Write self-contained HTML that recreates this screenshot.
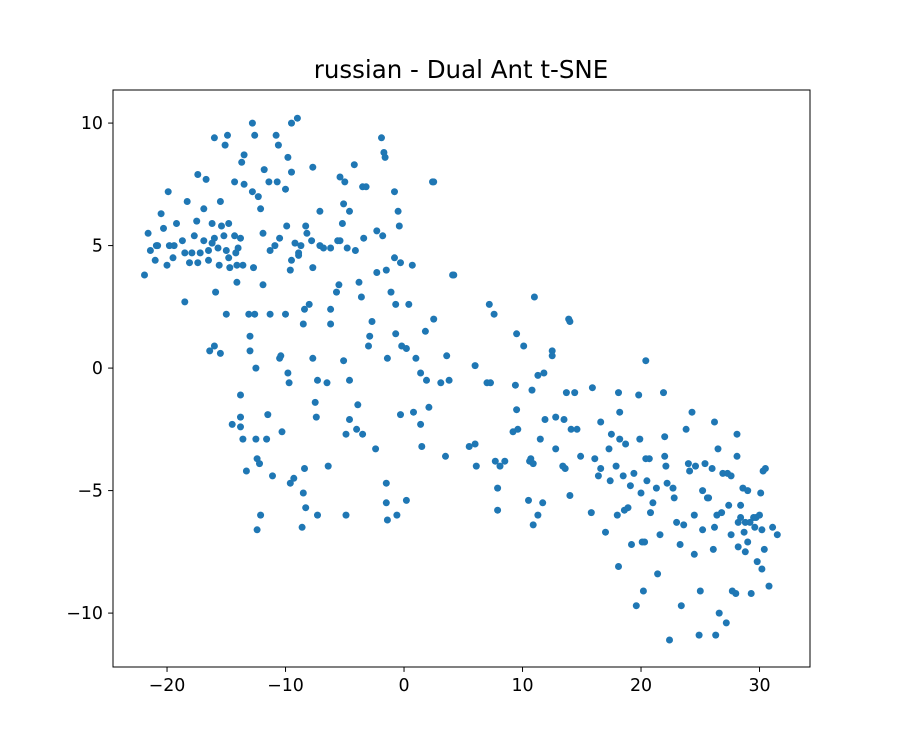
<!DOCTYPE html>
<html>
<head>
<meta charset="utf-8">
<style>
html,body{margin:0;padding:0;background:#fff;}
svg{display:block;font-family:"DejaVu Sans","Liberation Sans",sans-serif;}
</style>
</head>
<body>
<svg id="chart" width="900" height="750" xmlns="http://www.w3.org/2000/svg">
<rect x="0" y="0" width="900" height="750" fill="#fff"/>
<text x="461" y="78" text-anchor="middle" font-size="24.5" fill="#000">russian - Dual Ant t-SNE</text>
<g id="points"></g>
<g id="axes"></g>
</svg>
<script>
const xTicks = [-20,-10,0,10,20,30];
const yTicks = [-10,-5,0,5,10];
const xs = [-21.9,-21.6,-21.4,-20.9,-21.0,-20.8,-20.5,-20.3,-19.9,-20.0,-19.8,-19.5,-19.4,-19.2,-18.7,-18.5,-18.3,-18.5,-18.1,-17.9,-17.7,-17.5,-17.4,-17.4,-17.2,-16.9,-16.9,-16.7,-16.5,-16.5,-16.4,-16.2,-16.2,-16.0,-16.0,-15.9,-16.0,-15.7,-15.5,-15.6,-15.5,-15.4,-15.2,-15.1,-14.9,-15.0,-15.0,-14.8,-14.8,-14.7,-14.5,-14.3,-14.3,-14.2,-14.1,-14.1,-14.0,-13.8,-13.8,-13.8,-13.7,-13.5,-13.5,-13.6,-13.8,-13.6,-13.3,-13.1,-13.0,-13.0,-12.8,-12.8,-12.7,-12.6,-12.6,-12.5,-12.5,-12.4,-12.4,-12.3,-12.2,-12.1,-12.1,-11.9,-11.9,-11.8,-11.6,-11.5,-11.4,-11.3,-11.3,-11.1,-10.9,-10.8,-10.7,-10.6,-10.5,-10.5,-10.4,-10.3,-10.0,-10.0,-9.9,-9.8,-9.8,-9.7,-9.6,-9.6,-9.5,-9.5,-9.5,-9.3,-9.2,-9.0,-8.9,-8.9,-8.7,-8.6,-8.5,-8.5,-8.4,-8.4,-8.3,-8.3,-8.2,-8.0,-7.8,-7.7,-7.7,-7.7,-7.5,-7.4,-7.3,-7.3,-7.1,-7.1,-6.8,-6.5,-6.4,-6.2,-6.2,-6.2,-5.7,-5.6,-5.5,-5.4,-5.4,-5.2,-5.1,-5.1,-5.0,-4.9,-4.9,-4.8,-4.6,-4.6,-4.6,-4.2,-4.1,-4.0,-3.9,-3.8,-3.6,-3.5,-3.5,-3.4,-3.2,-3.0,-2.9,-2.7,-2.4,-2.3,-2.3,-1.9,-1.8,-1.7,-1.6,-1.5,-1.5,-1.5,-1.4,-1.4,-1.1,-0.8,-0.8,-0.7,-0.7,-0.6,-0.5,-0.4,-0.3,-0.3,-0.2,0.2,0.2,0.4,0.7,0.8,1.0,1.4,1.4,1.5,1.8,1.9,2.1,2.4,2.5,2.5,3.1,3.5,3.6,3.8,4.1,4.2,5.5,6.0,6.0,6.1,7.0,7.2,7.3,7.6,7.7,7.9,7.9,8.1,8.5,9.2,9.4,9.5,9.5,9.6,10.1,10.5,10.6,10.7,10.8,11.0,10.9,10.9,11.3,11.3,11.5,11.7,11.8,11.9,12.5,12.5,12.8,12.8,13.4,13.5,13.6,13.7,13.9,14.0,14.0,14.1,14.4,14.6,14.9,15.8,15.9,16.1,16.4,16.6,16.6,17.0,17.3,17.4,17.5,17.9,18.0,18.1,18.1,18.2,18.2,18.5,18.6,18.7,18.9,19.1,19.2,19.4,19.6,19.8,19.9,20.0,20.1,20.2,20.3,20.4,20.4,20.5,20.7,20.8,21.0,21.3,21.4,21.6,21.9,22.0,22.0,22.1,22.2,22.4,22.7,22.8,23.0,23.3,23.4,23.6,23.8,24.0,24.1,24.3,24.5,24.5,24.6,24.9,25.0,25.2,25.2,25.4,25.6,25.7,26.0,26.1,26.2,26.2,26.3,26.4,26.5,26.6,26.8,26.9,27.2,27.3,27.4,27.6,27.6,27.7,28.0,28.1,28.1,28.2,28.2,28.4,28.4,28.6,28.7,28.8,28.8,29.0,29.0,29.2,29.3,29.5,29.6,29.7,29.8,30.0,30.1,30.2,30.2,30.3,30.4,30.5,30.8,31.1,31.5];
const ys = [3.8,5.5,4.8,5.0,4.4,5.0,6.3,5.7,7.2,4.2,5.0,4.5,5.0,5.9,5.2,2.7,6.8,4.7,4.3,4.7,5.4,6.0,7.9,4.3,4.7,6.5,5.2,7.7,4.8,4.4,0.7,5.9,5.1,9.4,5.3,3.1,0.9,4.9,6.8,4.2,0.6,5.8,5.4,9.1,9.5,4.8,2.2,4.5,5.9,4.1,-2.3,7.6,5.4,4.7,4.2,3.5,4.9,-2.0,5.3,-1.1,8.4,8.7,7.5,4.2,-2.4,-2.9,-4.2,2.2,1.3,0.7,10.0,7.2,4.1,2.2,9.5,0.0,-2.9,-6.6,-3.7,7.0,-3.9,6.5,-6.0,3.4,5.5,8.1,-2.9,-1.9,7.6,4.8,2.2,-4.4,5.0,9.5,7.6,9.1,5.3,0.4,0.5,-2.6,2.2,7.3,5.8,8.6,-0.2,-0.6,-4.7,4.0,4.4,8.0,10.0,-4.5,5.1,10.2,4.6,4.7,5.0,-6.5,1.8,-5.1,-4.1,2.4,-5.7,5.8,5.5,2.6,5.2,4.1,8.2,0.4,-1.4,-2.0,-6.0,-0.5,6.4,5.0,4.9,-0.6,-4.0,1.8,2.4,4.9,3.1,5.2,3.4,5.2,7.8,5.9,6.7,0.3,7.6,-6.0,-2.7,4.9,-2.1,6.4,-0.5,8.3,4.8,-2.5,-1.5,3.5,2.9,7.4,-2.7,5.3,7.4,0.9,1.3,1.9,-3.3,3.9,5.6,9.4,5.4,8.8,8.6,4.0,-4.7,-5.5,0.4,-6.2,3.1,7.2,4.5,2.6,1.4,-6.0,6.4,5.8,-1.9,4.3,0.9,0.8,-5.4,2.6,4.2,-1.8,0.4,-2.3,-0.2,-3.2,1.5,-0.5,-1.6,7.6,7.6,2.0,-0.6,-3.6,0.5,-0.5,3.8,3.8,-3.2,-3.1,0.1,-4.0,-0.6,2.6,-0.6,2.2,-3.8,-4.9,-5.8,-4.0,-3.8,-2.6,-0.7,1.4,-1.7,-2.5,0.9,-5.4,-3.8,-3.7,-0.9,2.9,-3.9,-6.4,-6.0,-0.3,-2.9,-5.5,-0.2,-2.1,0.7,0.5,-3.3,-2.0,-4.0,-2.1,-4.1,-1.0,2.0,1.9,-5.2,-2.5,-1.0,-2.5,-3.6,-5.9,-0.8,-3.7,-4.4,-2.2,-4.1,-6.7,-3.3,-4.6,-2.7,-4.0,-6.0,-8.1,-1.0,-2.9,-1.8,-4.4,-5.8,-3.1,-5.7,-4.8,-7.2,-4.3,-9.7,-1.1,-2.9,-5.1,-7.1,-9.1,-7.1,0.3,-3.7,-4.6,-3.7,-5.9,-5.5,-4.9,-8.4,-6.8,-1.0,-2.8,-3.6,-4.0,-4.7,-11.1,-4.9,-5.3,-6.3,-7.2,-9.7,-6.4,-2.5,-3.9,-4.2,-1.8,-6.0,-7.6,-4.0,-10.9,-9.1,-6.6,-5.0,-3.9,-5.3,-5.3,-4.1,-7.4,-6.5,-2.2,-10.9,-6.0,-3.3,-10.0,-5.9,-4.3,-10.4,-4.3,-5.6,-4.4,-6.8,-9.1,-9.2,-2.7,-3.6,-6.3,-7.3,-5.6,-6.1,-4.9,-6.7,-7.5,-6.3,-5.0,-7.1,-6.3,-9.2,-6.1,-6.5,-6.1,-7.9,-6.0,-5.1,-6.6,-8.2,-4.2,-7.4,-4.1,-8.9,-6.5,-6.8];

const NS = "http://www.w3.org/2000/svg";
const L = 113, R = 810, T = 90, B = 667;
const xMin = -24.56, xMax = 34.26, yMin = -12.2, yMax = 11.35;
function xScale(v){ return L + (v - xMin) / (xMax - xMin) * (R - L); }
function yScale(v){ return B - (v - yMin) / (yMax - yMin) * (B - T); }

const pts = document.getElementById('points');
for (let i = 0; i < xs.length; i++) {
  const c = document.createElementNS(NS, 'circle');
  c.setAttribute('cx', xScale(xs[i]).toFixed(1));
  c.setAttribute('cy', yScale(ys[i]).toFixed(1));
  c.setAttribute('r', '3.5');
  c.setAttribute('fill', '#1f77b4');
  
  
  pts.appendChild(c);
}

const ax = document.getElementById('axes');
const frame = document.createElementNS(NS, 'rect');
frame.setAttribute('x', L); frame.setAttribute('y', T);
frame.setAttribute('width', R - L); frame.setAttribute('height', B - T);
frame.setAttribute('fill', 'none'); frame.setAttribute('stroke', '#000'); frame.setAttribute('stroke-width', '1');


ax.appendChild(frame);

xTicks.forEach(t => {
  const x = xScale(t);
  const ln = document.createElementNS(NS, 'line');
  ln.setAttribute('x1', x); ln.setAttribute('x2', x);
  ln.setAttribute('y1', B); ln.setAttribute('y2', B + 4.9);
  ln.setAttribute('stroke', '#000');
  
  
  ax.appendChild(ln);
  const tx = document.createElementNS(NS, 'text');
  tx.setAttribute('x', x); tx.setAttribute('y', B + 24);
  tx.setAttribute('text-anchor', 'middle'); tx.setAttribute('font-size', '17.4');
  tx.textContent = t < 0 ? '\u2212' + Math.abs(t) : String(t);
  
  
  ax.appendChild(tx);
});
yTicks.forEach(t => {
  const y = yScale(t);
  const ln = document.createElementNS(NS, 'line');
  ln.setAttribute('x1', L - 4.9); ln.setAttribute('x2', L);
  ln.setAttribute('y1', y); ln.setAttribute('y2', y);
  ln.setAttribute('stroke', '#000');
  
  
  ax.appendChild(ln);
  const tx = document.createElementNS(NS, 'text');
  tx.setAttribute('x', L - 10); tx.setAttribute('y', y + 6);
  tx.setAttribute('text-anchor', 'end'); tx.setAttribute('font-size', '17.4');
  tx.textContent = t < 0 ? '\u2212' + Math.abs(t) : String(t);
  
  
  ax.appendChild(tx);
});
</script>
</body>
</html>
